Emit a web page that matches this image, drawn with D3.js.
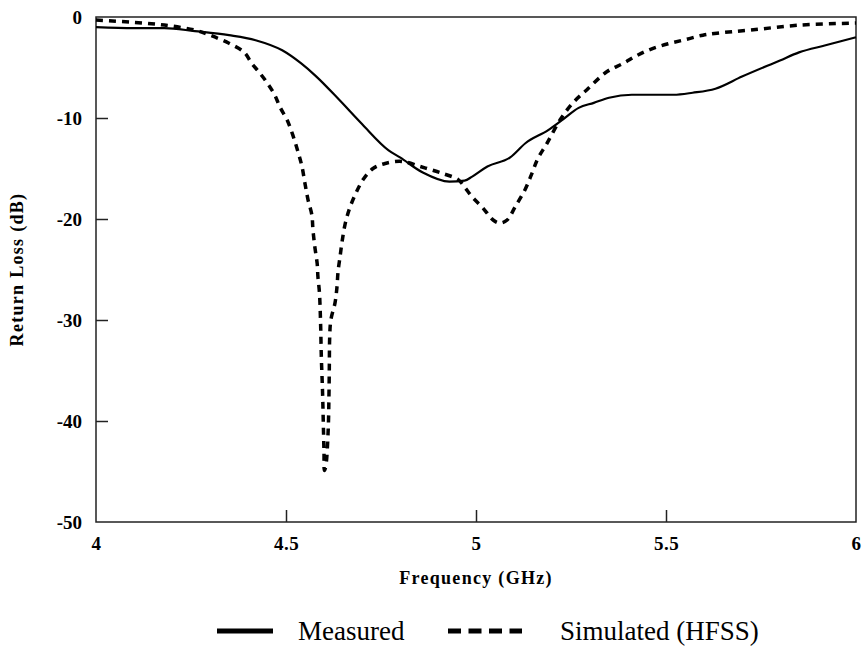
<!DOCTYPE html>
<html>
<head>
<meta charset="utf-8">
<script src="https://cdn.jsdelivr.net/npm/d3@7"></script>
<style>
  body { margin: 0; background: #fff; }
  svg { display: block; font-family: "Liberation Serif", "Times New Roman", serif; }
</style>
</head>
<body>
<svg id="chart" width="864" height="647"></svg>
<script>
// frequency in GHz, return loss in dB
var measuredF = [4.00, 4.10, 4.18, 4.26, 4.35, 4.42, 4.49, 4.54, 4.58, 4.64, 4.70, 4.77, 4.80, 4.86, 4.93, 4.97, 4.99, 5.03, 5.09, 5.13, 5.19, 5.23, 5.27, 5.31, 5.35, 5.41, 5.52, 5.57, 5.63, 5.70, 5.80, 5.85, 5.92, 6.00];
var measuredDb = [-1.0, -1.1, -1.1, -1.4, -1.8, -2.3, -3.3, -4.6, -5.9, -8.2, -10.6, -13.2, -13.9, -15.4, -16.3, -16.2, -15.8, -14.8, -13.9, -12.5, -11.2, -10.1, -9.0, -8.5, -8.0, -7.7, -7.7, -7.5, -7.1, -5.9, -4.3, -3.5, -2.8, -2.0];

var simF = [4.00, 4.09, 4.18, 4.26, 4.30, 4.35, 4.39, 4.41, 4.43, 4.45, 4.47, 4.484, 4.503, 4.518, 4.532, 4.542, 4.550, 4.558, 4.568, 4.571, 4.576, 4.582, 4.584, 4.588, 4.591, 4.593, 4.596, 4.598, 4.600, 4.601, 4.605, 4.611, 4.613, 4.614, 4.615, 4.618, 4.629, 4.634, 4.637, 4.642, 4.647, 4.655, 4.666, 4.682, 4.703, 4.729, 4.761, 4.805, 4.853, 4.897, 4.913, 4.953, 4.971, 4.992, 5.018, 5.045, 5.063, 5.082, 5.103, 5.129, 5.147, 5.163, 5.187, 5.221, 5.255, 5.292, 5.345, 5.387, 5.424, 5.466, 5.511, 5.555, 5.597, 5.634, 5.721, 5.853, 6.00];
var simDb = [-0.3, -0.5, -0.8, -1.3, -1.8, -2.6, -3.5, -4.6, -5.5, -6.5, -7.7, -8.9, -10.2, -11.7, -13.4, -14.8, -16.5, -18.1, -19.6, -21.1, -22.8, -24.4, -25.7, -27.3, -30.3, -33.7, -36.9, -39.9, -43.2, -44.9, -44.4, -40.9, -37.6, -34.7, -31.7, -30.0, -28.3, -26.8, -25.2, -23.8, -22.4, -20.6, -19.1, -17.6, -16.1, -15.0, -14.5, -14.3, -14.8, -15.3, -15.5, -16.1, -16.9, -17.9, -18.9, -20.1, -20.4, -20.1, -18.8, -17.1, -15.5, -14.0, -12.5, -10.2, -8.5, -7.2, -5.4, -4.6, -3.8, -3.1, -2.6, -2.2, -1.8, -1.6, -1.3, -0.8, -0.6];

var xTicks = [4, 4.5, 5, 5.5, 6];
var xTickLabels = ["4", "4.5", "5", "5.5", "6"];
var yTicks = [0, -10, -20, -30, -40, -50];
var legendNames = ["Measured", "Simulated (HFSS)"];

var svg = d3.select("#chart");
var plotLeft = 96, plotRight = 856, plotTop = 17, plotBottom = 522;

var x = d3.scaleLinear().domain([4, 6]).range([plotLeft, plotRight]);
var y = d3.scaleLinear().domain([-50, 0]).range([plotBottom, plotTop]);

// frame
svg.append("rect").attr("x", plotLeft).attr("y", plotTop)
    .attr("width", plotRight - plotLeft).attr("height", plotBottom - plotTop)
    .style("fill", "none").style("stroke", "#222").style("stroke-width", 1.5);

// x axis, ticks inside
var xAxis = d3.axisBottom(x).tickValues(xTicks).tickSizeInner(-12).tickSizeOuter(0)
    .tickFormat(function (d, i) { return xTickLabels[i]; });
var gx = svg.append("g").attr("transform", "translate(0," + plotBottom + ")").call(xAxis);
gx.select(".domain").remove();
gx.selectAll("line").style("stroke", "#222").style("stroke-width", 1.5);
gx.selectAll("text").attr("y", 15).attr("dy", "0.71em")
    .style("font-family", "Liberation Serif").style("font-weight", "bold").style("font-size", "19px")
    .style("letter-spacing", "0.5px").style("fill", "#000");

// y axis, ticks inside (plain hyphen as in the source figure)
var yAxis = d3.axisLeft(y).tickValues(yTicks).tickSizeInner(-12).tickSizeOuter(0)
    .tickFormat(function (d) { return String(d); });
var gy = svg.append("g").attr("transform", "translate(" + plotLeft + ",0)").call(yAxis);
gy.select(".domain").remove();
gy.selectAll("line").style("stroke", "#222").style("stroke-width", 1.5);
gy.selectAll("text").attr("x", -14)
    .style("font-family", "Liberation Serif").style("font-weight", "bold").style("font-size", "19px").style("fill", "#000");
// the end ticks overlap the frame
gx.selectAll(".tick").filter(function (d) { return d === 4 || d === 6; }).select("line").remove();
gy.selectAll(".tick").filter(function (d) { return d === 0 || d === -50; }).select("line").remove();

// axis titles
svg.append("text").text("Frequency (GHz)").attr("x", (plotLeft + plotRight) / 2).attr("y", 584)
    .style("text-anchor", "middle").style("font-weight", "bold").style("font-size", "18px").style("letter-spacing", "1.3px");
svg.append("text").text("Return Loss (dB)")
    .attr("transform", "translate(23," + ((plotTop + plotBottom) / 2) + ") rotate(-90)")
    .style("text-anchor", "middle").style("font-weight", "bold").style("font-size", "18px").style("letter-spacing", "1.3px");

// curves
var line = d3.line().x(function (d) { return x(d[0]); }).y(function (d) { return y(d[1]); }).curve(d3.curveMonotoneX);
var lineSim = d3.line().x(function (d) { return x(d[0]); }).y(function (d) { return y(d[1]); }).curve(d3.curveCatmullRom.alpha(0.5));

svg.append("path").datum(d3.zip(measuredF, measuredDb)).attr("d", line)
    .style("fill", "none").style("stroke", "#000").style("stroke-width", 2.2);
svg.append("path").datum(d3.zip(simF, simDb)).attr("d", lineSim)
    .style("fill", "none").style("stroke", "#000").style("stroke-width", 3.5).style("stroke-dasharray", "7,6");

// legend
var legendY = 631;
svg.append("line").attr("x1", 217).attr("x2", 273).attr("y1", legendY).attr("y2", legendY)
    .style("stroke", "#000").style("stroke-width", 5);
svg.append("text").text(legendNames[0]).attr("x", 298).attr("y", legendY + 9).style("font-size", "27px");
svg.append("line").attr("x1", 448).attr("x2", 522).attr("y1", legendY).attr("y2", legendY)
    .style("stroke", "#000").style("stroke-width", 5).style("stroke-dasharray", "13,7.5");
svg.append("text").text(legendNames[1]).attr("x", 560).attr("y", legendY + 9).style("font-size", "27px");
</script>
</body>
</html>
